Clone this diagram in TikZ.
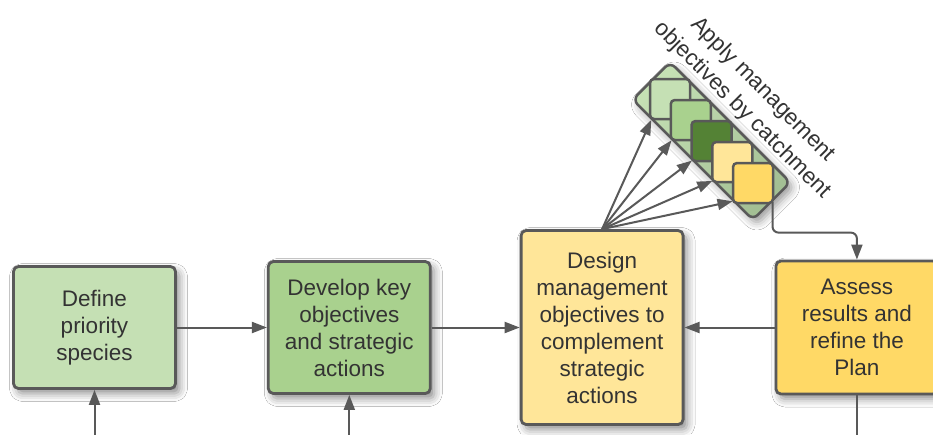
\documentclass[tikz,border=0pt]{standalone}
\usepackage{fontspec}
\setmainfont{Liberation Sans}
\usepackage{tikz}
\usepackage{xcolor}
\usetikzlibrary{positioning,calc,arrows.meta,shadows.blur}

\definecolor{lineGrey}{HTML}{595959}
\definecolor{textGrey}{HTML}{333333}
\definecolor{greenLight}{HTML}{C5E0B4}
\definecolor{greenMid}{HTML}{A9D18E}
\definecolor{greenDark}{HTML}{548235}
\definecolor{greenGrey}{HTML}{A3BF94}
\definecolor{yellowLight}{HTML}{FFE699}
\definecolor{yellowMid}{HTML}{FFD966}

\tikzset{
  stage/.style={draw=lineGrey, line width=2.8pt, rounded corners=5pt, text=textGrey,
    align=center, font=\fontsize{22.5}{27}\selectfont, minimum width=162pt, inner sep=2pt,
    blur shadow={shadow xshift=4pt, shadow yshift=-5pt, shadow blur radius=8pt, shadow opacity=45}},
  tile/.style={draw=lineGrey, line width=2.5pt, rounded corners=4pt, minimum size=40pt, inner sep=0pt},
  arr/.style={draw=lineGrey, line width=2pt, -{Triangle[length=15pt,width=11pt]}},
  link/.style={draw=lineGrey, line width=2pt},
}

\begin{document}
\begin{tikzpicture}[x=1pt,y=-1pt]
        \useasboundingbox (0,0) rectangle (933,434);
        \fill[white] (0,0) rectangle (933,434);
        \clip (0,0) rectangle (933,434);

        % the four stages
        \node[stage, fill=greenLight, minimum height=122pt] (species) at (94.5,327.5) {Define\\priority\\species};
        \node[stage, fill=greenMid, minimum height=132pt, right=90pt of species] (develop) {Develop key\\objectives\\and strategic\\actions};
        \node[stage, fill=yellowLight, minimum height=194pt, right=88pt of develop] (design) {Design\\management\\objectives to\\complement\\strategic\\actions};
        \node[stage, fill=yellowMid, minimum height=133pt, right=90pt of design] (assess) {Assess\\results and\\refine the\\Plan};

        % catchment group
        \node[draw=lineGrey, line width=2.5pt, rounded corners=7pt, rotate=-45, minimum width=170pt, minimum height=53pt,
          top color=greenLight, bottom color=greenGrey, shading angle=45,
          blur shadow={shadow xshift=4pt, shadow yshift=-5pt, shadow blur radius=8pt, shadow opacity=40}] (catch) at (711.5,141) {};
        \foreach \col [count=\i] in {greenLight,greenMid,greenDark,yellowLight,yellowMid}
            \node[tile, fill=\col] (tile\i) at ($(catch.center)+({20.75*(\i-3)},{21*(\i-3)})$) {};
        \node[rotate=-45, anchor=south, align=center, text=textGrey, font=\fontsize{22.5}{29}\selectfont, inner sep=5pt] (catchLabel) at (catch.north) {Apply management\\objectives by catchment};

        % connectors
        \coordinate (inSpecies) at (species.south |- 0,440);
        \coordinate (inDevelop) at (develop.south |- 0,440);
        \coordinate (outAssess) at (assess.south |- 0,440);
        \draw[arr] (species) -- (develop);
        \draw[arr] (develop) -- (design);
        \draw[arr] (assess) -- (design);
        \draw[arr] (inSpecies) -- (species);
        \draw[arr] (inDevelop) -- (develop);
        \draw[link] (assess) -- (outAssess);
        \foreach \t in {1,...,5}
            \draw[arr] (design.north) -- ($(catch.south west)!\t/6!(catch.south east)$);
        \draw[arr, rounded corners=6pt] (catch.east) |- ($(assess.north)+(0,-27)$) -- (assess.north);
    \end{tikzpicture}
\end{document}
